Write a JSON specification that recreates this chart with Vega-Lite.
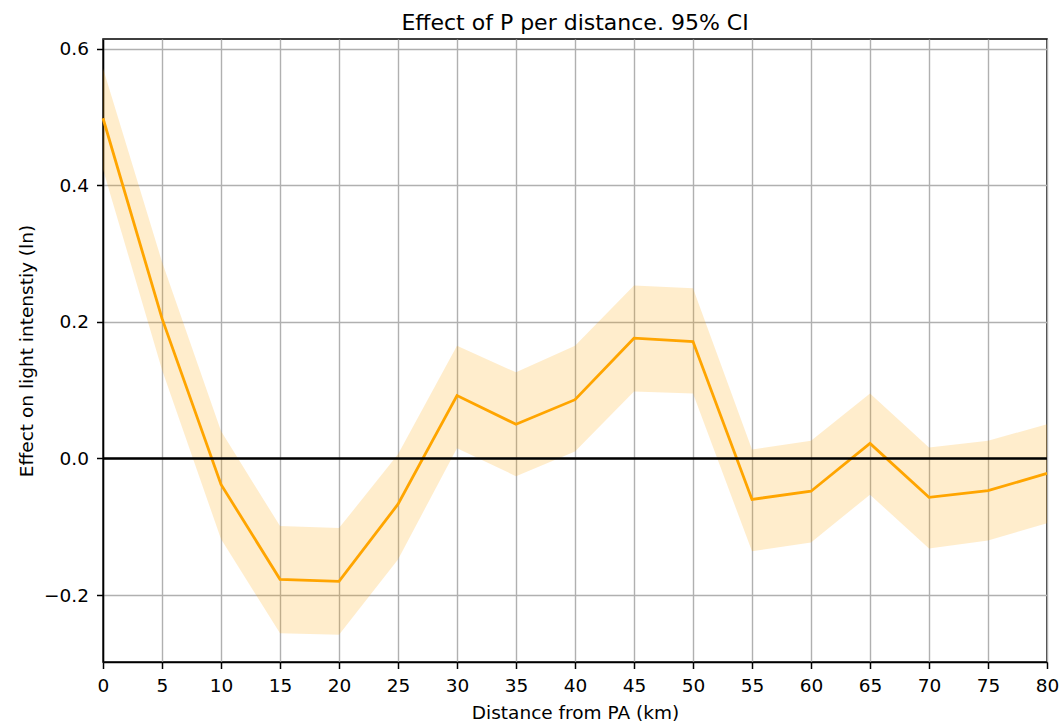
{
  "$schema": "https://vega.github.io/schema/vega-lite/v6.json",
  "width": 944,
  "height": 623,
  "autosize": {"type": "none"},
  "padding": {"left": 103, "top": 39, "right": 12, "bottom": 62},
  "background": "white",
  "title": {
    "text": "Effect of P per distance. 95% CI",
    "font": "DejaVu Sans",
    "fontSize": 22,
    "fontWeight": "normal",
    "color": "black",
    "anchor": "middle",
    "offset": 4
  },
  "config": {
    "view": {"stroke": "black", "strokeWidth": 1.5},
    "axis": {
      "labelFont": "DejaVu Sans",
      "titleFont": "DejaVu Sans",
      "labelFontSize": 18.5,
      "titleFontSize": 18.5,
      "titleFontWeight": "normal",
      "labelColor": "black",
      "titleColor": "black",
      "domainColor": "black",
      "domainWidth": 1.5,
      "tickColor": "black",
      "tickSize": 6.5,
      "tickWidth": 1.5,
      "labelPadding": 8,
      "labelFlush": false,
      "labelOverlap": false,
      "gridColor": "#b0b0b0",
      "gridWidth": 1.4,
      "gridOpacity": 1
    }
  },
  "datasets": {
    "ci": [
      {"d": 0, "mean": 0.498, "lo": 0.423, "hi": 0.571},
      {"d": 5, "mean": 0.205, "lo": 0.13, "hi": 0.288},
      {"d": 10, "mean": -0.038, "lo": -0.118, "hi": 0.040},
      {"d": 15, "mean": -0.177, "lo": -0.256, "hi": -0.099},
      {"d": 20, "mean": -0.180, "lo": -0.258, "hi": -0.102},
      {"d": 25, "mean": -0.067, "lo": -0.148, "hi": 0.006},
      {"d": 30, "mean": 0.092, "lo": 0.015, "hi": 0.165},
      {"d": 35, "mean": 0.050, "lo": -0.026, "hi": 0.126},
      {"d": 40, "mean": 0.086, "lo": 0.010, "hi": 0.165},
      {"d": 45, "mean": 0.176, "lo": 0.098, "hi": 0.253},
      {"d": 50, "mean": 0.171, "lo": 0.095, "hi": 0.249},
      {"d": 55, "mean": -0.060, "lo": -0.136, "hi": 0.013},
      {"d": 60, "mean": -0.048, "lo": -0.123, "hi": 0.026},
      {"d": 65, "mean": 0.022, "lo": -0.053, "hi": 0.095},
      {"d": 70, "mean": -0.057, "lo": -0.132, "hi": 0.016},
      {"d": 75, "mean": -0.047, "lo": -0.120, "hi": 0.026},
      {"d": 80, "mean": -0.022, "lo": -0.095, "hi": 0.050}
    ],
    "zero": [{"y0": 0}]
  },
  "layer": [
    {
      "data": {"name": "ci"},
      "mark": {"type": "area", "color": "#ffa500", "opacity": 0.2},
      "encoding": {
        "x": {
          "field": "d", "type": "quantitative",
          "scale": {"domain": [0, 80], "nice": false, "zero": false},
          "axis": {"values": [0,5,10,15,20,25,30,35,40,45,50,55,60,65,70,75,80], "title": "Distance from PA (km)", "titlePadding": 8}
        },
        "y": {
          "field": "lo", "type": "quantitative",
          "scale": {"domain": [-0.298, 0.614], "nice": false, "zero": false},
          "axis": {"values": [-0.2, 0, 0.2, 0.4, 0.6], "format": ".1f", "title": "Effect on light intenstiy (ln)", "titlePadding": 7}
        },
        "y2": {"field": "hi"}
      }
    },
    {
      "data": {"name": "ci"},
      "mark": {"type": "line", "color": "#ffa500", "strokeWidth": 2.8},
      "encoding": {
        "x": {"field": "d", "type": "quantitative"},
        "y": {"field": "mean", "type": "quantitative"}
      }
    },
    {
      "data": {"name": "zero"},
      "mark": {"type": "rule", "color": "black", "strokeWidth": 2.6},
      "encoding": {
        "y": {"field": "y0", "type": "quantitative"}
      }
    }
  ]
}
